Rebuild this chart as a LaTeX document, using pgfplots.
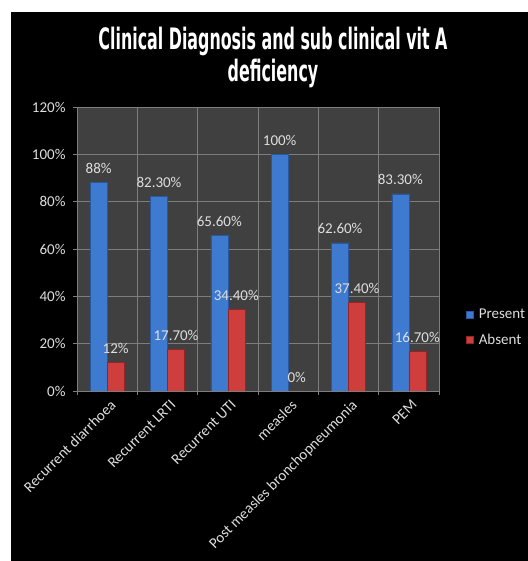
\documentclass[border=0pt]{standalone}
\usepackage{pgfplots}
\pgfplotsset{compat=1.18}
\usepackage{graphicx}
\usepackage{fontspec}
\setmainfont{Carlito}
\newfontfamily\titlefont{DejaVu Sans Condensed}
\definecolor{bgplot}{RGB}{64,64,64}
\definecolor{gridc}{RGB}{125,125,125}
\definecolor{txt}{RGB}{222,222,222}
\definecolor{blueF}{RGB}{62,122,208}
\definecolor{blueD}{RGB}{40,88,160}
\definecolor{redF}{RGB}{206,62,60}
\definecolor{redD}{RGB}{150,36,36}
\begin{document}
\begin{tikzpicture}
\fill[white] (0bp,0bp) rectangle (528bp,561bp);
\fill[black] (11bp,0bp) rectangle (528bp,549bp);
\begin{axis}[
  at={(77bp,170bp)}, anchor=south west,
  width=362bp, height=284bp, scale only axis,
  axis background/.style={fill=bgplot},
  axis line style={gridc},
  ybar=0pt, bar width=17bp,
  xmin=-0.5, xmax=5.5, ymin=0, ymax=120,
  xtick={-0.5,0.5,1.5,2.5,3.5,4.5,5.5}, xticklabels={},
  extra x ticks={0,1,2,3,4,5},
  extra x tick labels={Recurrent diarrhoea,Recurrent LRTI,Recurrent UTI,measles,Post measles bronchopneumonia,PEM},
  extra x tick style={major tick length=0pt, grid=none,
    xticklabel style={rotate=45, anchor=north east, inner sep=2bp, xshift=-2bp, yshift=-5bp}},
  ytick={0,20,...,120},
  yticklabels={0\%,20\%,40\%,60\%,80\%,100\%,120\%},
  yticklabel style={xshift=-4bp},
  xmajorgrids, ymajorgrids,
  grid style={gridc, line width=0.8pt},
  tick pos=left, tick align=outside, major tick length=4bp,
  tick style={gridc, line width=0.8pt},
  tick label style={font=\fontsize{15bp}{18bp}\selectfont, text=txt},
  /pgf/number format/assume math mode=true,
  title style={at={(0.5414,1.183)}, anchor=base, text=white, inner sep=0pt},
  title={\resizebox{349bp}{\height}{\titlefont\bfseries\fontsize{29.5bp}{32bp}\selectfont\begin{tabular}[t]{@{}c@{}}Clinical Diagnosis and sub clinical vit A\\deficiency\end{tabular}}},
  nodes near coords={\pgfplotspointmeta\%},
  point meta=explicit symbolic,
  every node near coord/.append style={anchor=center, yshift=14bp, text=txt, font=\fontsize{15bp}{18bp}\selectfont},
  legend image code/.code={\fill[#1] (0bp,-3.5bp) rectangle (7bp,3.5bp);},
  legend style={at={(1.0746,0.2236)}, anchor=west, draw=none, fill=none, text=txt,
    font=\fontsize{15bp}{18bp}\selectfont, inner sep=0pt, row sep=10bp,
    cells={anchor=west}, /tikz/every odd column/.append style={column sep=3bp}},
]
\addplot[fill=blueF, draw=blueD, line width=0.6pt] table[x=x, y=y, meta=lab] {
x y lab
0 88 88
1 82.3 82.30
2 65.6 65.60
3 100 100
4 62.6 62.60
5 83.3 83.30
};
\addplot[fill=redF, draw=redD, line width=0.6pt] table[x=x, y=y, meta=lab] {
x y lab
0 12 12
1 17.7 17.70
2 34.4 34.40
3 0 0
4 37.4 37.40
5 16.7 16.70
};
\legend{Present,Absent}
\end{axis}
\pgfresetboundingbox
\path[use as bounding box] (0bp,0bp) rectangle (528bp,561bp);
\end{tikzpicture}
\end{document}
